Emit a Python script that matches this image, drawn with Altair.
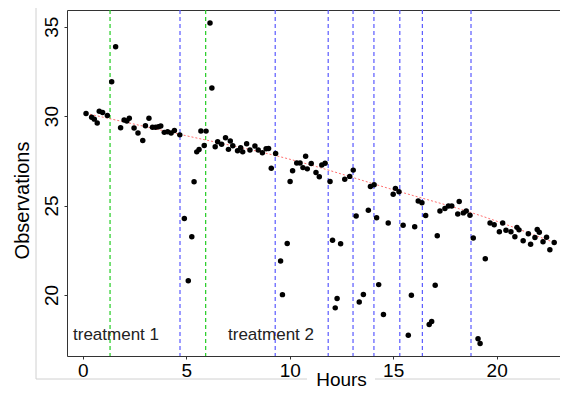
import altair as alt
import pandas as pd

hours = [0.16, 0.43, 0.56, 0.70, 0.80, 0.96, 1.19, 1.40, 1.59, 1.83, 2.00, 2.13, 2.25, 2.48, 2.67, 2.90,
         3.03, 3.20, 3.37, 3.52, 3.66, 3.77, 3.94, 4.10, 4.27, 4.43, 4.69,
         4.91, 5.10, 5.27, 5.38, 5.51, 5.62, 5.71, 5.87, 5.96, 6.15, 6.24, 6.40, 6.52, 6.71, 6.90,
         7.04, 7.13, 7.25, 7.48, 7.63, 7.73, 7.92, 8.08, 8.32, 8.48, 8.68, 8.86, 8.98, 9.11, 9.32,
         9.56, 9.65, 9.88, 10.02, 10.14, 10.34, 10.50, 10.64, 10.77, 10.85, 11.04, 11.27, 11.43,
         11.55, 11.71, 11.95,
         12.07, 12.20, 12.29, 12.46, 12.66, 12.90, 13.07,
         13.21, 13.36, 13.56, 13.80, 13.90, 14.08,
         14.20, 14.30, 14.53, 14.76, 15.00, 15.11, 15.28,
         15.48, 15.73, 15.88, 16.04, 16.21, 16.39,
         16.57, 16.74, 16.86, 17.03, 17.13, 17.26, 17.50, 17.67, 17.83, 18.12, 18.19, 18.39, 18.53, 18.71,
         18.87, 19.10, 19.20, 19.45, 19.68, 19.88, 20.13, 20.29, 20.45, 20.69, 20.88, 20.98, 21.08,
         21.28, 21.53, 21.64, 21.85, 21.96, 22.06, 22.24, 22.41, 22.57, 22.78]
observations = [30.15, 29.93, 29.83, 29.62, 30.27, 30.20, 30.03, 31.92, 33.88, 29.35, 29.78, 29.73, 29.88, 29.34, 29.06, 28.64,
                29.46, 29.88, 29.37, 29.37, 29.41, 29.44, 29.09, 29.13, 29.05, 29.20, 28.95,
                24.28, 20.79, 23.25, 26.33, 28.00, 28.13, 29.17, 28.36, 29.16, 35.20, 31.57, 28.28, 28.56, 28.42, 28.79,
                28.14, 28.61, 28.34, 28.06, 28.23, 28.00, 28.45, 28.11, 28.33, 28.10, 27.95, 28.17, 28.19, 27.08, 27.91,
                21.90, 20.02, 22.88, 26.34, 26.94, 27.38, 27.38, 27.12, 27.76, 27.05, 27.35, 26.85, 26.61,
                27.27, 27.37, 26.35,
                23.06, 19.28, 19.80, 22.86, 26.47, 26.63, 26.98,
                24.41, 19.61, 20.03, 24.74, 26.07, 26.16,
                24.32, 20.58, 18.91, 24.03, 25.63, 25.96, 25.77,
                23.90, 17.75, 19.99, 23.81, 25.25, 25.15,
                24.44, 18.35, 18.52, 20.54, 23.31, 24.69, 24.84, 24.97, 24.97, 24.53, 25.23, 24.59, 24.70, 24.46,
                23.18, 17.56, 17.29, 22.02, 24.03, 23.93, 23.53, 24.03, 23.62, 23.53, 23.25, 23.78, 23.64,
                23.03, 23.42, 22.84, 23.22, 23.66, 23.51, 22.97, 23.23, 22.53, 22.93]

trend_hours = [0.16, 4.5, 9.9, 15.3, 19.0, 22.78]
trend_values = [30.15, 29.03, 27.62, 25.78, 24.52, 22.93]

green_lines = [1.32, 5.94]
blue_lines = [4.70, 9.30, 11.86, 13.06, 14.07, 15.32, 16.41, 18.76]

label_text = ["treatment 1", "treatment 2"]
label_hours = [-0.47, 7.02]
label_values = [17.75, 17.75]

W, H = 493, 346
FONT = "Liberation Sans"

xs = alt.Scale(domain=[-0.76, 23.06], nice=False, zero=False)
ys = alt.Scale(domain=[16.59, 35.93], nice=False, zero=False)

pts = pd.DataFrame({"Hours": hours, "Observations": observations})
trend = pd.DataFrame({"Hours": trend_hours, "Observations": trend_values})
greens = pd.DataFrame({"h": green_lines})
blues = pd.DataFrame({"h": blue_lines})
labels = pd.DataFrame({"t": label_text, "h": label_hours, "v": label_values})

xaxis = alt.Axis(values=[0, 5, 10, 15, 20], grid=False, domain=False, tickSize=3, tickColor="#333",
                 labelFontSize=19, labelFont=FONT, labelColor="#000", labelPadding=2,
                 labelBaseline="top", title="Hours", titleFont=FONT, titleFontSize=19,
                 titleFontWeight="normal", titleColor="#000", titleX=274, titleY=29,
                 titleBaseline="alphabetic", titleAlign="center", zindex=1)
yaxis = alt.Axis(values=[20, 25, 30, 35], grid=False, domain=False, tickSize=3, tickColor="#333",
                 labelFontSize=19, labelFont=FONT, labelColor="#000", labelPadding=7,
                 labelAngle=270, labelAlign="center", labelBaseline="alphabetic",
                 title="Observations", titleFont=FONT, titleFontSize=20, titleFontWeight="normal",
                 titleColor="#000", titleAngle=270, titleX=-45, titleY=190,
                 titleAlign="center", titleBaseline="middle", zindex=1)

points = alt.Chart(pts).mark_circle(color="#000", opacity=1, size=30).encode(
    x=alt.X("Hours:Q", scale=xs, axis=xaxis),
    y=alt.Y("Observations:Q", scale=ys, axis=yaxis),
)

trend_line = alt.Chart(trend).mark_line(color="#ff7070", strokeDash=[2, 2], strokeWidth=1, interpolate="monotone").encode(
    x=alt.X("Hours:Q", scale=xs), y=alt.Y("Observations:Q", scale=ys))

green_rules = alt.Chart(greens).mark_rule(color="#22cc22", strokeDash=[4, 3], strokeWidth=1.2).encode(
    x=alt.X("h:Q", scale=xs), y=alt.value(0), y2=alt.value(H))
blue_rules = alt.Chart(blues).mark_rule(color="#5a5aff", strokeDash=[4, 3], strokeWidth=1.2).encode(
    x=alt.X("h:Q", scale=xs), y=alt.value(0), y2=alt.value(H))

texts = alt.Chart(labels).mark_text(align="left", baseline="middle", fontSize=17, font=FONT, color="#222").encode(
    x=alt.X("h:Q", scale=xs), y=alt.Y("v:Q", scale=ys), text="t:N")

one = pd.DataFrame({"a": [0]})
border = alt.Chart(one).mark_rect(fillOpacity=0, stroke="#d0d0d0", strokeWidth=1).encode(
    x=alt.value(-31), x2=alt.value(540), y=alt.value(-3), y2=alt.value(369))
mask = alt.Chart(one).mark_rect(fill="white", stroke=None).encode(
    x=alt.value(240), x2=alt.value(308), y=alt.value(360), y2=alt.value(382))

chart = alt.layer(border, mask, green_rules, blue_rules, trend_line, points, texts).properties(
    width=W, height=H, autosize="none",
    padding={"left": 59, "top": 2, "right": 0, "bottom": 34},
    background="white",
).configure_view(stroke="#333", strokeWidth=1)

chart.save("out.html", embed_options={"renderer": "svg", "actions": False})
